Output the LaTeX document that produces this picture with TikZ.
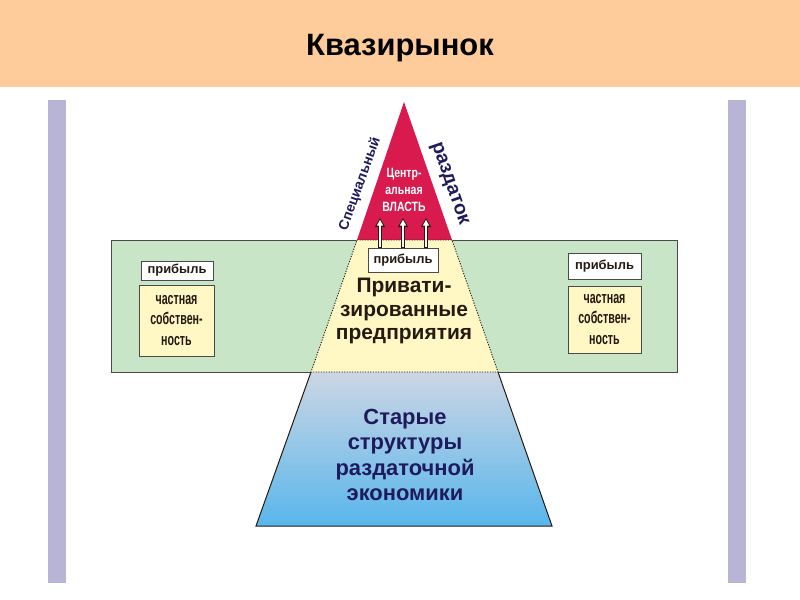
\documentclass[tikz,border=0pt]{standalone}
\usepackage{fontspec}
\setmainfont{Liberation Sans}
\newfontfamily\condfont[FakeStretch=0.63]{Liberation Sans}
\newfontfamily\midfont[FakeStretch=0.78]{Liberation Sans}
\usetikzlibrary{arrows.meta}
\definecolor{headbg}{HTML}{FECB9A}
\definecolor{barcol}{HTML}{B8B4D6}
\definecolor{bandgreen}{HTML}{C8E5C8}
\definecolor{paleyellow}{HTML}{FFF8C4}
\definecolor{crimson}{HTML}{D81A4E}
\definecolor{bluetop}{HTML}{CCD6E4}
\definecolor{bluebot}{HTML}{58B6EC}
\definecolor{navy}{HTML}{1E1A5C}
\definecolor{darktext}{HTML}{241A12}
\definecolor{edgegray}{HTML}{4A4A4A}
\tikzset{
  profitbox/.style={draw=edgegray, fill=white, line width=0.8bp, inner sep=0pt,
    font=\bfseries\fontsize{13}{15}\selectfont, text=darktext},
  ownbox/.style={draw=edgegray, fill=paleyellow, line width=0.8bp, inner sep=0pt,
    align=center, font=\condfont\bfseries\fontsize{17}{21}\selectfont, text=darktext},
  arrowout/.style={line width=3.6bp, draw=darktext, -{Triangle[length=9bp,width=9.5bp]}},
  arrowin/.style={line width=1.5bp, draw=white, shorten >=1.7bp, shorten <=1bp,
    -{Triangle[length=6bp,width=6bp]}},
}
\begin{document}
\begin{tikzpicture}[x=1bp,y=-1bp]
\useasboundingbox (0,0) rectangle (800,600);
\fill[white] (0,0) rectangle (800,600);
% header
\fill[headbg] (0,0) rectangle (800,87);
\node[font=\bfseries\fontsize{31}{36}\selectfont, text=black] (title) at (400,48) {Квазирынок};
% side bars
\fill[barcol] (48,100) rectangle (66,583);
\fill[barcol] (728,100) rectangle (746,583);
% green band
\node[draw=edgegray, fill=bandgreen, line width=0.9bp, minimum width=566bp, minimum height=132bp, inner sep=0pt] (band) at (394,306) {};
% pyramid points
\coordinate (A) at (404,102);
\coordinate (L1) at (357,240);
\coordinate (R1) at (452,240);
\coordinate (L2) at (311,372);
\coordinate (R2) at (498,372);
\coordinate (L3) at (256,526);
\coordinate (R3) at (552,526);
\fill[crimson] (A) -- (R1) -- (L1) -- cycle;
\fill[paleyellow] (L1) -- (R1) -- (R2) -- (L2) -- cycle;
\shade[top color=bluetop, bottom color=bluebot] (L2) -- (R2) -- (R3) -- (L3) -- cycle;
\draw[darktext, line width=1bp] (L2) -- (L3) -- (R3) -- (R2);
\draw[darktext, line width=0.9bp, dash pattern=on 1.2bp off 1.4bp] (L1) -- (R1) -- (R2) -- (L2) -- cycle;
% side labels
\node[font=\bfseries\fontsize{14}{15}\selectfont, text=navy, rotate=70] (spec) at (360,184) {Специальный};
\node[font=\bfseries\fontsize{19.5}{20}\selectfont, text=navy, rotate=-71] (razd) at (449,184) {раздаток};
% central power
\node[align=center, text=white, font=\midfont\bfseries\fontsize{13.5}{17}\selectfont] (power) at (404,190) {Центр-\\альная\\ВЛАСТЬ};
% central profit box
\node[profitbox, minimum width=70bp, minimum height=24bp] (pb) at (403,260) {прибыль};
\coordinate (t1) at (380,218);
\coordinate (t2) at (403,218);
\coordinate (t3) at (426,218);
\foreach \t in {t1,t2,t3}{
  \draw[arrowout] (pb.north -| \t) -- (\t);
  \draw[arrowin] (pb.north -| \t) -- (\t);
}
% privatized
\node[align=center, text=darktext, font=\bfseries\fontsize{21}{23.5}\selectfont] (priv) at (404,311) {Привати-\\зированные\\предприятия};
% old structures
\node[align=center, text=navy, font=\bfseries\fontsize{22}{25.3}\selectfont] (old) at (405,455) {Старые\\структуры\\раздаточной\\экономики};
% left boxes
\node[profitbox, minimum width=72bp, minimum height=19bp] (pl) at (177,270.5) {прибыль};
\node[ownbox, minimum width=75bp, minimum height=71bp] (ol) at (176.5,320.5) {частная\\собствен-\\ность};
% right boxes
\node[profitbox, minimum width=73bp, minimum height=26bp] (pr) at (604.5,266) {прибыль};
\node[ownbox, minimum width=73bp, minimum height=67bp] (or) at (604.5,319.5) {частная\\собствен-\\ность};
\end{tikzpicture}
\end{document}
